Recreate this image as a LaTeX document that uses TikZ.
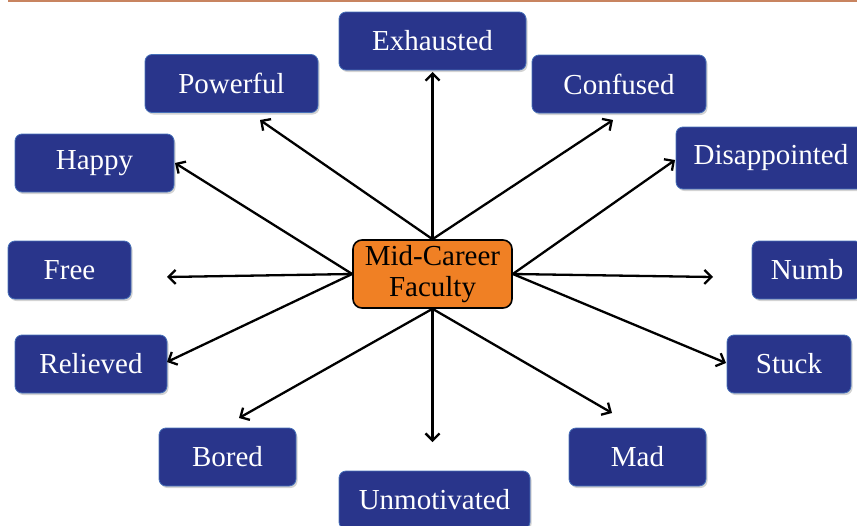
\documentclass[tikz,border=0pt]{standalone}
\usepackage{fontspec}
\setmainfont{Liberation Serif}
\usetikzlibrary{arrows.meta,shadows}
\definecolor{navy}{RGB}{41,53,139}
\definecolor{navyedge}{RGB}{70,112,185}
\definecolor{midorange}{RGB}{240,128,36}
\definecolor{toprule}{RGB}{200,132,96}
\tikzset{
    feeling-box/.style = {draw=navyedge, fill=navy, line width=0.8pt, rectangle, rounded corners=7pt, minimum height=58pt, inner sep=0pt, text=white, font=\fontsize{29}{31}\selectfont, drop shadow={shadow xshift=1.5pt, shadow yshift=-2pt, opacity=0.35}},
    center-box/.style = {draw=black, fill=midorange, line width=1.6pt, rectangle, rounded corners=9pt, minimum width=159pt, minimum height=68pt, inner sep=0pt, align=center, font=\fontsize{29}{31}\selectfont},
    feeling-arrow/.style = {draw=black, line width=2.3pt, -{Straight Barb[length=7pt,width=14pt]}},
}
\begin{document}
\begin{tikzpicture}[x=1pt, y=-1pt]
\useasboundingbox (0,0) rectangle (857,525);
\clip (0,0) rectangle (857,525);
\draw[toprule, line width=2pt] (8,1) -- (857,1);

\node[feeling-box, minimum width=187pt] (exhausted) at (432.5,41) {Exhausted};
\node[feeling-box, minimum width=173pt] (powerful) at (231.5,83.5) {Powerful};
\node[feeling-box, minimum width=174pt] (confused) at (619,84) {Confused};
\node[feeling-box, minimum width=159pt] (happy) at (94.5,163) {Happy};
\node[feeling-box, minimum width=190pt, minimum height=62pt] (disappointed) at (771,158) {Disappointed};
\node[feeling-box, minimum width=123pt] (free) at (69.5,270) {Free};
\node[feeling-box, minimum width=110pt] (numb) at (807,270) {Numb};
\node[feeling-box, minimum width=152pt] (relieved) at (91,364) {Relieved};
\node[feeling-box, minimum width=124pt] (stuck) at (789,364) {Stuck};
\node[feeling-box, minimum width=137pt] (bored) at (227.5,457) {Bored};
\node[feeling-box, minimum width=137pt] (mad) at (637.5,457) {Mad};
\node[feeling-box, minimum width=191pt] (unmotivated) at (434.5,500) {Unmotivated};
\node[center-box] (mid) at (432.5,274) {Mid-Career\\Faculty};

\coordinate (exhausted-tip) at (432.5,72);
\coordinate (powerful-tip) at (260,120);
\coordinate (confused-tip) at (613,120);
\coordinate (happy-tip) at (175,163);
\coordinate (disappointed-tip) at (675,160);
\coordinate (free-tip) at (167,277);
\coordinate (numb-tip) at (713,277);
\coordinate (relieved-tip) at (167,362);
\coordinate (stuck-tip) at (726,363);
\coordinate (bored-tip) at (239,418);
\coordinate (mad-tip) at (612,413);
\coordinate (unmotivated-tip) at (432.5,442);

\draw[feeling-arrow] (mid.north) -- (exhausted-tip);
\draw[feeling-arrow] (mid.north) -- (powerful-tip);
\draw[feeling-arrow] (mid.north) -- (confused-tip);
\draw[feeling-arrow] (mid.west) -- (happy-tip);
\draw[feeling-arrow] (mid.west) -- (free-tip);
\draw[feeling-arrow] (mid.west) -- (relieved-tip);
\draw[feeling-arrow] (mid.east) -- (disappointed-tip);
\draw[feeling-arrow] (mid.east) -- (numb-tip);
\draw[feeling-arrow] (mid.east) -- (stuck-tip);
\draw[feeling-arrow] (mid.south) -- (bored-tip);
\draw[feeling-arrow] (mid.south) -- (unmotivated-tip);
\draw[feeling-arrow] (mid.south) -- (mad-tip);
\end{tikzpicture}
\end{document}
